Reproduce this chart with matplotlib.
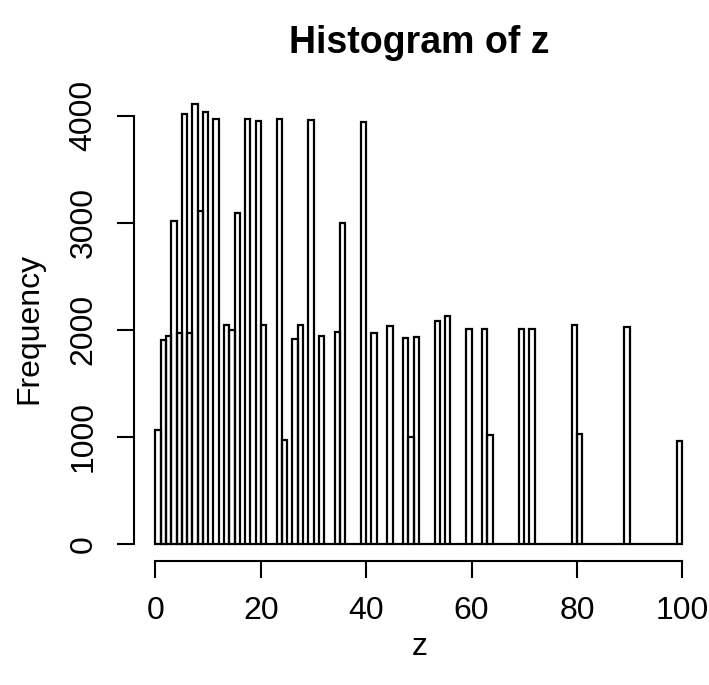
import matplotlib.pyplot as plt
import numpy as np

# distinct values of z and how often each occurs
z_values = [1, 2, 3, 4, 5, 6, 7, 8, 9, 10, 12, 14, 15, 16, 18, 20, 21, 24, 25, 27,
            28, 30, 32, 35, 36, 40, 42, 45, 48, 49, 50, 54, 56, 60, 63, 64, 70, 72,
            80, 81, 90, 100]
frequency = [1065, 1900, 1940, 3020, 1965, 4013, 1970, 4107, 3106, 4035, 3972, 2044,
             2000, 3091, 3972, 3950, 2044, 3966, 970, 1913, 2044, 3962, 1944, 1981,
             2994, 3938, 1966, 2035, 1919, 1000, 1929, 2084, 2125, 2004, 2005, 1013,
             2004, 2009, 2041, 1022, 2025, 963]
x_ticks = [0, 20, 40, 60, 80, 100]
y_ticks = [0, 1000, 2000, 3000, 4000]

# bins (k-1, k] of width 1 from 0 to 100
edges = np.arange(0, 101)
counts = np.zeros(100)
for v, f in zip(z_values, frequency):
    counts[v - 1] = f

plt.rcParams['font.family'] = ['Liberation Sans', 'DejaVu Sans']

fig = plt.figure(figsize=(7.09, 6.85), dpi=100)
ax = fig.add_axes([0.1896, 0.1806, 0.8024, 0.6928])

ax.bar(edges[:-1], counts, width=1, align='edge', fill=False,
       edgecolor='black', linewidth=1.6)

ymax = counts.max()
ax.set_xlim(-4, 104)
ax.set_ylim(-0.04 * ymax, 1.04 * ymax)

for s in ['top', 'right']:
    ax.spines[s].set_visible(False)
ax.spines['bottom'].set_bounds(0, 100)
ax.spines['left'].set_bounds(0, 4000)
for s in ['bottom', 'left']:
    ax.spines[s].set_linewidth(1.5)

ax.set_xticks(x_ticks)
ax.set_yticks(y_ticks)
ax.set_xticklabels([str(t) for t in x_ticks])
ax.set_yticklabels([str(t) for t in y_ticks], rotation=90, va='center')
ax.tick_params(axis='both', direction='out', length=12, width=1.5, labelsize=23)
ax.tick_params(axis='x', pad=13)
ax.tick_params(axis='y', pad=14)

fig.text(0.5915, 0.937, "Histogram of z", ha='center', va='center',
         fontsize=27, fontweight='bold')
fig.text(0.5915, 0.056, "z", ha='center', va='center', fontsize=23)
fig.text(0.042, 0.52, "Frequency", ha='center', va='center', rotation=90, fontsize=23)

plt.savefig("out.png", dpi=100)
